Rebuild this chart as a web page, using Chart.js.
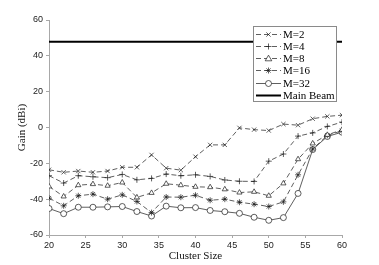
<!DOCTYPE html>
<html>
<head>
<meta charset="utf-8">
<script src="https://cdn.jsdelivr.net/npm/chart.js@4/dist/chart.umd.min.js"></script>
<style>
    html, body { margin: 0; padding: 0; background: #fff; }
    #wrap { width: 379px; height: 265px; }
</style>
</head>
<body>
<div id="wrap"><canvas id="gain-chart" width="379" height="265"></canvas></div>
<script>
// cluster sizes along the x axis
var clusterSize = [20, 22, 24, 26, 28, 30, 32, 34, 36, 38, 40, 42, 44, 46, 48, 50, 52, 54, 56, 58, 60];

// gain (dBi) per number of beams M
var gainM2  = [-23.6, -25.0, -24.3, -25.0, -24.3, -22.2, -22.2, -15.3, -22.7, -23.8, -16.3, -9.7, -9.7, -0.2, -1.2, -1.7, 1.9, 1.3, 4.9, 6.2, 6.9];
var gainM4  = [-26.9, -31.0, -26.9, -27.5, -28.0, -26.2, -29.2, -28.4, -26.0, -26.9, -26.4, -27.3, -29.3, -30.0, -30.1, -18.8, -14.8, -4.8, -3.0, 0.6, 3.0];
var gainM8  = [-32.9, -38.5, -32.2, -31.6, -32.5, -30.7, -39.0, -36.5, -31.4, -32.2, -33.1, -33.3, -34.5, -36.3, -35.9, -38.1, -31.2, -17.7, -8.9, -4.1, -1.3];
var gainM16 = [-39.4, -43.7, -38.1, -37.2, -40.0, -37.6, -41.3, -47.5, -38.8, -38.9, -37.8, -40.6, -40.0, -41.7, -42.8, -44.1, -41.5, -26.4, -12.0, -4.4, -1.8];
var gainM32 = [-45.2, -48.1, -44.5, -44.5, -44.3, -44.1, -46.9, -49.4, -43.9, -44.8, -44.7, -46.3, -47.0, -47.9, -50.1, -51.8, -50.3, -36.8, -12.3, -5.0, -2.6];

// main beam gain, flat over the whole range
var mainBeamX = [20, 60];
var mainBeam  = [47.8, 47.8];

var seriesLabels = ['M=2', 'M=4', 'M=8', 'M=16', 'M=32', 'Main Beam'];
var xTitle = 'Cluster Size';
var yTitle = 'Gain (dBi)';
var xTicks = [20, 25, 30, 35, 40, 45, 50, 55, 60];
var yTicks = [-60, -40, -20, 0, 20, 40, 60];

(function() {
    'use strict';

    var serif = "'Liberation Serif', 'DejaVu Serif', serif";
    var sans = "'Liberation Sans', Arial, sans-serif";
    var lineColor = '#1a1a1a';
    var axisColor = '#a8a8a8';

    function points(xs, ys) {
        return xs.map(function(x, i) { return { x: x, y: ys[i] }; });
    }

    function series(label, values, marker, dashed) {
        return {
            label: label,
            data: points(clusterSize, values),
            borderColor: lineColor,
            borderWidth: 0.7,
            borderDash: dashed ? [5, 3] : [],
            pointStyle: marker,
            pointRadius: 3,
            pointBorderWidth: 0.7,
            pointBorderColor: lineColor,
            pointBackgroundColor: '#fff',
            tension: 0,
            fill: false
        };
    }

    function drawMarker(ctx, style, x, y, r) {
        ctx.save();
        ctx.setLineDash([]);
        ctx.lineWidth = 0.7;
        ctx.strokeStyle = lineColor;
        ctx.fillStyle = '#fff';
        ctx.beginPath();
        if (style === 'crossRot' || style === 'star') {
            var d = r * Math.SQRT1_2;
            ctx.moveTo(x - d, y - d); ctx.lineTo(x + d, y + d);
            ctx.moveTo(x - d, y + d); ctx.lineTo(x + d, y - d);
        }
        if (style === 'cross' || style === 'star') {
            ctx.moveTo(x - r, y); ctx.lineTo(x + r, y);
            ctx.moveTo(x, y - r); ctx.lineTo(x, y + r);
        }
        if (style === 'triangle') {
            var s = r * 1.1;
            ctx.moveTo(x, y - s);
            ctx.lineTo(x + s, y + s * 0.7);
            ctx.lineTo(x - s, y + s * 0.7);
            ctx.closePath();
            ctx.fill();
        }
        if (style === 'circle') {
            ctx.arc(x, y, r, 0, Math.PI * 2);
            ctx.fill();
        }
        ctx.stroke();
        ctx.restore();
    }

    // axis titles, placed against the plot area
    var axisTitles = {
        id: 'axisTitles',
        afterDraw: function(chart) {
            var ctx = chart.ctx;
            var area = chart.chartArea;
            ctx.save();
            ctx.fillStyle = '#111';
            ctx.font = '11px ' + serif;
            ctx.textAlign = 'center';
            ctx.textBaseline = 'middle';
            ctx.fillText(xTitle, (area.left + area.right) / 2, area.bottom + 21);
            ctx.translate(area.left - 26.5, (area.top + area.bottom) / 2);
            ctx.rotate(-Math.PI / 2);
            ctx.fillText(yTitle, 0, 0);
            ctx.restore();
        }
    };

    // legend box drawn inside the plot, on top of the main beam line
    var boxLegend = {
        id: 'boxLegend',
        afterDraw: function(chart) {
            var ctx = chart.ctx;
            var left = 253.5, top = 26.5, w = 83, h = 75;
            var rowY = 33.5, rowStep = 12.25;

            ctx.save();
            ctx.fillStyle = '#fff';
            ctx.fillRect(left, top, w, h);
            ctx.strokeStyle = '#8a8a8a';
            ctx.lineWidth = 1;
            ctx.strokeRect(left, top, w, h);

            chart.data.datasets.forEach(function(ds, i) {
                var y = Math.round(rowY + i * rowStep) + 0.5;
                ctx.strokeStyle = ds.borderColor;
                ctx.lineWidth = ds.borderWidth;
                ctx.setLineDash(ds.borderDash || []);
                ctx.beginPath();
                ctx.moveTo(256, y);
                ctx.lineTo(281, y);
                ctx.stroke();
                if (ds.pointRadius > 0) {
                    drawMarker(ctx, ds.pointStyle, 268.5, y, ds.pointRadius);
                }
                ctx.setLineDash([]);
                ctx.fillStyle = '#000';
                ctx.font = '11px ' + serif;
                ctx.textBaseline = 'middle';
                ctx.textAlign = 'left';
                ctx.fillText(ds.label, 283, y + 0.5);
            });
            ctx.restore();
        }
    };

    var datasets = [
        series(seriesLabels[0], gainM2, 'crossRot', true),
        series(seriesLabels[1], gainM4, 'cross', true),
        series(seriesLabels[2], gainM8, 'triangle', true),
        series(seriesLabels[3], gainM16, 'star', true),
        series(seriesLabels[4], gainM32, 'circle', false),
        {
            label: seriesLabels[5],
            data: points(mainBeamX, mainBeam),
            borderColor: '#000',
            borderWidth: 2,
            borderDash: [],
            pointRadius: 0,
            fill: false
        }
    ];

    new Chart(document.getElementById('gain-chart'), {
        type: 'line',
        data: { datasets: datasets },
        options: {
            responsive: false,
            animation: false,
            layout: {
                padding: { left: 0, right: 37, top: 20, bottom: 0 }
            },
            plugins: {
                legend: { display: false },
                tooltip: { enabled: false }
            },
            scales: {
                x: {
                    type: 'linear',
                    min: 20,
                    max: 60,
                    afterFit: function(scale) { scale.height = 30; },
                    afterBuildTicks: function(scale) {
                        scale.ticks = xTicks.map(function(v) { return { value: v }; });
                    },
                    border: { color: axisColor, width: 1 },
                    grid: { drawOnChartArea: false, drawTicks: true, tickLength: 3, color: axisColor },
                    ticks: { padding: 2, color: '#222', font: { family: sans, size: 9 }, maxRotation: 0 }
                },
                y: {
                    min: -60,
                    max: 60,
                    afterFit: function(scale) { scale.width = 49; },
                    afterBuildTicks: function(scale) {
                        scale.ticks = yTicks.map(function(v) { return { value: v }; });
                    },
                    border: { color: axisColor, width: 1 },
                    grid: { drawOnChartArea: false, drawTicks: true, tickLength: 3, color: axisColor },
                    ticks: { padding: 3, color: '#222', font: { family: sans, size: 9 } }
                }
            }
        },
        plugins: [axisTitles, boxLegend]
    });
})();
</script>
</body>
</html>
